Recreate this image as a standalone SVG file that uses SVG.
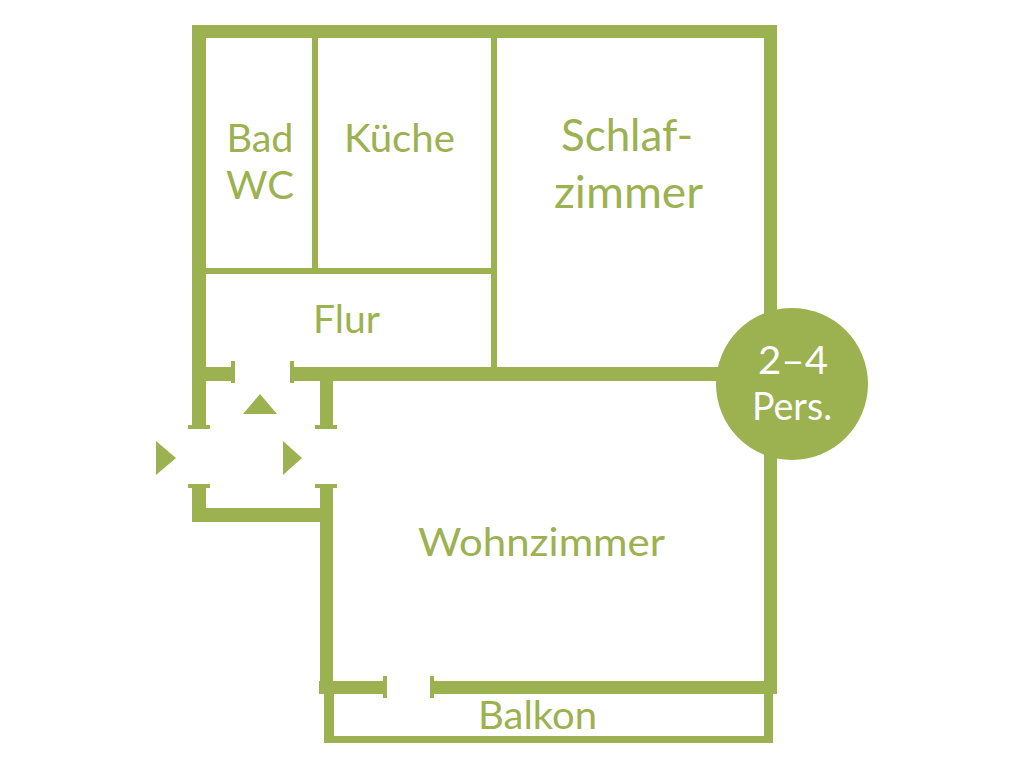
<svg xmlns="http://www.w3.org/2000/svg" width="1024" height="768" viewBox="0 0 1024 768">
<style>
.w{fill:#9cb150}
text{font-family:Lato,"Open Sans","Liberation Sans",sans-serif;fill:#9cb150;text-anchor:middle;font-size:38px}
.big{font-size:44px}
.inv{fill:#fff}
</style>
<rect width="1024" height="768" fill="#fff"/>
<g id="walls" class="w">
<rect x="192" y="25" width="585" height="13"/>
<rect x="192" y="25" width="14" height="400"/>
<rect x="764" y="25" width="13" height="669"/>
<rect x="312" y="38" width="6" height="232"/>
<rect x="491" y="38" width="6" height="335"/>
<rect x="206" y="268" width="285" height="6"/>
<rect x="206" y="367" width="28" height="14"/>
<rect x="292" y="367" width="472" height="14"/>
<rect x="320" y="381" width="13" height="44"/>
<rect x="192" y="488" width="14" height="34"/>
<rect x="192" y="508" width="128" height="14"/>
<rect x="320" y="488" width="13" height="206"/>
<rect x="319" y="681" width="66" height="13"/>
<rect x="432" y="681" width="345" height="13"/>
<rect x="324" y="694" width="10" height="49"/>
<rect x="764" y="694" width="9" height="49"/>
<rect x="324" y="736" width="449" height="7"/>
</g>
<g id="door-caps" class="w">
<rect x="231" y="361" width="4" height="22"/>
<rect x="290" y="361" width="4" height="22"/>
<rect x="188" y="425" width="22" height="4"/>
<rect x="315" y="425" width="22" height="4"/>
<rect x="188" y="484" width="22" height="4"/>
<rect x="315" y="484" width="22" height="4"/>
<rect x="383" y="676" width="4" height="22"/>
<rect x="430" y="676" width="4" height="22"/>
</g>
<g id="entry-arrows" class="w">
<polygon points="260,394 277,414 243,414"/>
<polygon points="156,441 176,458 156,475"/>
<polygon points="283,441 302,458 283,475"/>
</g>
<g id="badge">
<circle class="w" cx="792" cy="384" r="76"/>
<text class="inv" x="793" y="374" textLength="70" lengthAdjust="spacingAndGlyphs">2–4</text>
<text class="inv" x="792" y="420" textLength="80" lengthAdjust="spacingAndGlyphs">Pers.</text>
</g>
<g id="bad"><text x="260" y="152" textLength="67" lengthAdjust="spacingAndGlyphs">Bad</text><text x="260" y="199" textLength="68" lengthAdjust="spacingAndGlyphs">WC</text></g>
<g id="kueche"><text x="399.500" y="152" textLength="111" lengthAdjust="spacingAndGlyphs">Küche</text></g>
<g id="schlafzimmer"><text class="big" x="627" y="151" textLength="132" lengthAdjust="spacingAndGlyphs">Schlaf-</text><text class="big" x="628.500" y="208" textLength="149" lengthAdjust="spacingAndGlyphs">zimmer</text></g>
<g id="flur"><text x="346.500" y="333" textLength="67" lengthAdjust="spacingAndGlyphs">Flur</text></g>
<g id="wohnzimmer"><text x="541.500" y="556" textLength="247" lengthAdjust="spacingAndGlyphs">Wohnzimmer</text></g>
<g id="balkon"><text x="537.500" y="729" textLength="119" lengthAdjust="spacingAndGlyphs">Balkon</text></g>
</svg>
